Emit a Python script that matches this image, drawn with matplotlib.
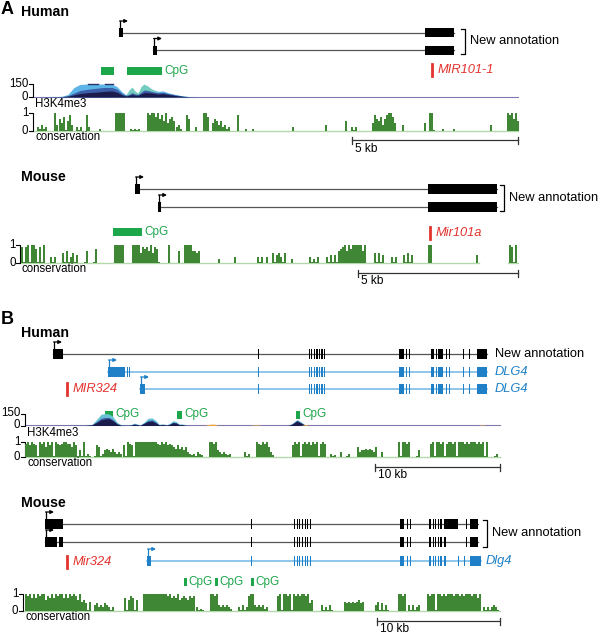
import matplotlib.pyplot as plt
from matplotlib.patches import Rectangle
import numpy as np

plt.rcParams['font.family'] = ['Liberation Sans', 'DejaVu Sans']

# colours
CONS = '#3f8734'
CONS_LIGHT = '#8cc282'
CONS_BASE = '#b3d8ac'
CPG = '#1ea64b'
RED = '#e2332e'
BLUE = '#1f80c7'
BLUE_LINE = '#6fb6e5'
GRAY = '#555555'

# ---------------- panel A, human ----------------
a_hs_tx1 = [(119, 123), (425, 454)]
a_hs_tx2 = [(153, 157), (425, 454)]
a_hs_cpg = [(101, 114), (127, 162)]
a_hs_cpg_labels = [False, True]
a_hs_mir_x = 432

# H3K4me3 profile (signal 0-150)
a_h3k_x = [33, 50, 62, 68, 74, 80, 88, 96, 104, 112, 117, 122, 126, 129, 132, 135, 138, 141, 144, 148,
           153, 158, 163, 168, 175, 183, 190, 200, 518]
a_h3k_sky = [1, 3, 8, 30, 110, 145, 150, 150, 150, 148, 120, 60, 25, 40, 60, 45, 40, 90, 120, 110,
             85, 65, 70, 50, 30, 12, 4, 1, 1]
a_h3k_teal = [0, 0, 0, 0, 0, 0, 0, 0, 0, 0, 30, 30, 25, 80, 115, 70, 45, 120, 150, 125,
              80, 55, 45, 35, 20, 0, 0, 0, 0]
a_h3k_mid = [0, 2, 5, 15, 45, 75, 90, 100, 110, 110, 90, 40, 20, 30, 50, 35, 30, 55, 80, 75,
             60, 50, 55, 40, 25, 10, 3, 0, 0]
a_h3k_navy = [1, 2, 4, 10, 25, 40, 50, 55, 65, 70, 55, 25, 12, 18, 30, 22, 20, 35, 50, 50,
              45, 35, 40, 30, 18, 7, 2, 1, 1]

# conservation: (start, one digit per 2-unit bin, 9 = 1.0)
a_hs_cons = [(37, "21312"), (54, "93"), (59, "6470583"), (76, "202"), (86, "82"), (99, "1"),
             (115, "99999"), (130, "10101"), (147, "98997968594675"), (176, "231"), (186, "86"),
             (195, "2"), (203, "997"), (212, "465352312"), (237, "8"), (245, "1"), (252, "1"),
             (292, "2"), (325, "3"), (345, "5"), (351, "202"), (372, "486573689974"), (402, "3"),
             (424, "4"), (429, "990"), (442, "1"), (453, "1"), (490, "3"), (507, "989695")]

# ---------------- panel A, mouse ----------------
a_mm_tx1 = [(135, 140), (428, 497)]
a_mm_tx2 = [(158, 161), (428, 497)]
a_mm_cpg = [(113, 142)]
a_mm_mir_x = 430
a_mm_cons = [(21, "80890997"), (37, "0809"), (50, "303"), (62, "50603504"), (84, "06"), (93, "07"),
             (114, "99999"), (132, "9999"), (140, "5878695870"), (168, "9"), (178, "6"),
             (184, "9999"), (192, "6656"), (218, "2"), (234, "3"), (257, "303"), (266, "3"),
             (272, "5045305"), (291, "2"), (309, "30203"), (326, "304040"), (338, "6789697"),
             (352, "99999"), (362, "69"), (374, "50504"), (391, "303"), (403, "40504"),
             (428, "99"), (476, "4"), (509, "9809")]

# ---------------- panel B, human ----------------
b_hs_body = [(257.5, 258.7), (308.5, 309.5), (311, 312), (313.5, 315), (316, 317.5), (318.5, 320),
             (321, 322.5), (323.5, 325), (399, 403.5), (405.5, 406.7), (408.5, 409.7), (431, 434),
             (435.5, 436.7), (438, 443), (446, 447.2), (449, 450.2), (463, 464.2), (469, 470.2),
             (477, 487)]
b_hs_new = [(53, 63)] + b_hs_body
b_hs_dlg4_1 = [(108, 125), (126.5, 127.5), (129, 130)] + b_hs_body
b_hs_dlg4_2 = [(140, 145)] + b_hs_body
b_hs_cpg = [(105, 113), (177, 182), (296, 300)]
b_hs_mir_x = 67

b_h3k_x = [25, 85, 92, 97, 101, 105, 109, 113, 117, 121, 128, 131, 134, 137, 140, 144, 148, 152, 156,
           159, 163, 167, 170, 173, 176, 179, 182, 186, 190, 205, 209, 214, 218, 250, 256, 262,
           288, 292, 297, 301, 305, 310, 478, 482, 486, 500]
b_h3k_sky = [1, 2, 15, 80, 140, 150, 145, 110, 40, 10, 3, 10, 30, 20, 5, 40, 90, 95, 60,
             15, 20, 10, 30, 60, 50, 20, 20, 5, 1, 1, 3, 3, 1, 1, 2, 1,
             1, 25, 75, 45, 8, 1, 1, 2, 1, 1]
b_h3k_mid = [0, 1, 10, 50, 90, 100, 100, 70, 25, 5, 2, 6, 20, 14, 3, 30, 60, 70, 40,
             10, 14, 6, 20, 40, 35, 12, 12, 3, 0, 0, 0, 0, 0, 0, 0, 0,
             0, 20, 65, 35, 5, 0, 0, 0, 0, 0]
b_h3k_navy = [1, 2, 8, 40, 70, 80, 85, 60, 20, 4, 2, 5, 15, 10, 2, 25, 50, 55, 30,
              8, 10, 5, 15, 35, 30, 10, 10, 2, 1, 1, 1, 1, 1, 1, 1, 1,
              1, 15, 55, 30, 4, 1, 1, 1, 1, 1]
b_h3k_orange = [0, 0, 0, 0, 0, 0, 0, 0, 0, 0, 0, 0, 0, 0, 0, 0, 0, 0, 0,
                0, 0, 0, 0, 0, 0, 0, 0, 0, 0, 0, 15, 18, 0, 0, 9, 0,
                0, 0, 0, 0, 12, 0, 0, 8, 0, 0]

b_hs_cons = [(25, "8979870989697909878998"), (69, "869704"), (81, "09020"),
             (94, "07602454353232"), (123, "7098709"), (137, "9999999999"), (157, "87989787"),
             (173, "6575646"), (187, "32120321"), (209, "9989"), (217, "4323212"), (229, "2"),
             (244, "302"), (256, "9879896"), (270, "31"), (292, "79890898979890898"),
             (330, "201"), (340, "3"), (346, "02"), (357, "6344545436"), (381, "3"),
             (398, "909989"), (416, "04"), (430, "8909989089"), (450, "98909998989"),
             (472, "99898909"), (494, "02")]

# ---------------- panel B, mouse ----------------
b_mm_body = [(251, 252.2), (293.5, 294.7), (296.5, 297.7), (299, 300.2), (301.5, 302.7), (304.5, 305.7),
             (307, 308.2), (309.5, 310.7), (400, 404), (406.5, 407.7), (409.5, 410.7), (429, 431),
             (432.5, 433.5), (435, 436), (437.5, 438.5), (440, 442)]
b_mm_tx1 = [(45, 63)] + b_mm_body + [(444, 458), (465.5, 466.7), (470, 478)]
b_mm_tx2 = [(45, 57), (59, 63)] + b_mm_body + [(444, 446), (465.5, 466.7), (470, 478)]
b_mm_dlg4 = [(147, 151)] + b_mm_body + [(444, 445.5), (458, 459.2), (464, 465.2), (470, 481)]
b_mm_cpg = [(184, 187), (215, 218), (251, 254)]
b_mm_mir_x = 67
b_mm_cons = [(25, "98979798996879798997979898"), (77, "6956405"), (94, "3423243202"),
             (124, "7068706"), (143, "99999999999989"), (171, "787967876878"), (196, "2010"),
             (210, "9989"), (218, "3232321"), (238, "20302"), (248, "899"), (254, "3232312"),
             (277, "8909989098989989"), (309, "46"), (321, "302030"), (344, "5454545645"),
             (375, "3504030"), (398, "9989"), (408, "303023"),
             (427, "989909989899989989899989"), (475, "979"), (483, "20202320")]

fig = plt.figure(figsize=(6.04, 6.35), dpi=100)
ax = fig.add_axes([0, 0, 1, 1])
ax.set_xlim(0, 604)
ax.set_ylim(635, 0)
ax.axis('off')

FS = 9.3
FS_S = 8.3


def transcript(exons, y, h, color, line_color, lw=0.9, tss=True):
    ax.plot([exons[0][0], exons[-1][1]], [y, y], color=line_color, lw=lw, zorder=1)
    for a, b in exons:
        ax.add_patch(Rectangle((a, y - h / 2), b - a, h, color=color, lw=0, zorder=2))
    if tss:
        x = exons[0][0] + 1
        top = y - h / 2 - 7
        ax.plot([x, x], [y - h / 2, top], color=color, lw=0.9)
        ax.annotate('', xy=(x + 8, top), xytext=(x - 0.4, top),
                    arrowprops=dict(arrowstyle='-|>', lw=0.9, color=color, mutation_scale=5,
                                    shrinkA=0, shrinkB=0))


def cpg(boxes, y, h=8, label_pad=2, labels=None):
    if labels is None:
        labels = [True] * len(boxes)
    for (a, b), lab in zip(boxes, labels):
        ax.add_patch(Rectangle((a, y - h / 2), b - a, h, color=CPG, lw=0))
        if lab:
            ax.text(b + label_pad, y, 'CpG', color=CPG, fontsize=FS_S + 0.2, va='center', ha='left')


def mir(x, y, name):
    ax.plot([x, x], [y - 6, y + 6], color=RED, lw=2)
    ax.text(x + 6, y, name, color=RED, fontsize=FS, style='italic', va='center', ha='left')


def bracket(x, y0, y1, label):
    ax.plot([x, x + 4, x + 4, x], [y0, y0, y1, y1], color='black', lw=0.9)
    ax.text(x + 9, (y0 + y1) / 2, label, fontsize=FS, va='center', ha='left')


def track_axis(x, base, top, top_label):
    ax.plot([x - 4, x, x, x - 4], [top, top, base, base], color='black', lw=0.8)
    ax.text(x - 4.5, top, top_label, fontsize=FS_S, ha='right', va='center')
    ax.text(x - 4.5, base, '0', fontsize=FS_S, ha='right', va='center')


def conservation(segs, x0, x1, base, top, label_y, gaps=()):
    xs, hs = [], []
    for start, s in segs:
        for i, c in enumerate(s):
            xs.append(start + 2 * i)
            hs.append(int(c) / 9 if c != '0' else 0.06)
    xs = np.array(xs, dtype=float)
    hs = np.array(hs) * (base - top)
    # baseline
    edges = [x0] + [g for gap in gaps for g in gap] + [x1]
    for a, b in zip(edges[::2], edges[1::2]):
        ax.plot([a, b], [base - 0.3, base - 0.3], color=CONS_BASE, lw=1.0, zorder=1)
    # light fill under the peaks, then dark spikes on top
    ax.bar(xs, -hs * 0.85, bottom=base, width=2.0, align='edge', color=CONS_LIGHT, lw=0, zorder=2)
    ax.bar(xs + 0.2, -hs, bottom=base, width=1.5, align='edge', color=CONS, lw=0, zorder=3)
    track_axis(x0, base, top, '1')
    ax.text(x0 + 2, label_y, 'conservation', fontsize=FS_S, va='center', ha='left')


def h3k(xv, layers, base, top, x0, label_y):
    xv = np.array(xv, dtype=float)
    scale = (base - top) / 150.0
    for vals, col in layers:
        v = np.array(vals, dtype=float)
        ax.fill_between(xv, base, base - v * scale, color=col, lw=0, zorder=2)
    ax.plot([x0, xv[-1]], [base - 0.3, base - 0.3], color='#8e7cb6', lw=0.8, zorder=1)
    track_axis(x0, base, top, '150')
    ax.text(x0 + 2, label_y, 'H3K4me3', fontsize=FS_S, va='center', ha='left')


def scalebar(x0, x1, y, label):
    ax.plot([x0, x1], [y, y], color='#333333', lw=0.9)
    ax.plot([x0, x0], [y - 3.5, y + 3.5], color='#333333', lw=0.9)
    ax.plot([x1, x1], [y - 3.5, y + 3.5], color='#333333', lw=0.9)
    ax.text(x0 + 3, y + 8.5, label, fontsize=FS_S + 0.3, va='center', ha='left')


# ---------- A human ----------
ax.text(1, 9, 'A', fontsize=13, fontweight='bold', va='center', ha='left')
ax.text(21, 12, 'Human', fontsize=10.2, fontweight='bold', va='center', ha='left')
transcript(a_hs_tx1, 32.5, 9, 'black', GRAY)
transcript(a_hs_tx2, 50, 9, 'black', GRAY)
bracket(461, 29, 54, 'New annotation')
cpg(a_hs_cpg, 71, labels=a_hs_cpg_labels)
mir(a_hs_mir_x, 70, 'MIR101-1')
h3k(a_h3k_x, [(a_h3k_sky, '#5cb5e6'), (a_h3k_teal, '#73ccbf'), (a_h3k_mid, '#3a5ea8'),
              (a_h3k_navy, '#1c1c4c')], 97, 84, 33, 104)
ax.plot([88, 98], [84.4, 84.4], color='#2a3468', lw=1)
ax.plot([105, 113], [84.4, 84.4], color='#2a3468', lw=1)
conservation(a_hs_cons, 33, 518, 131, 113, 137.5)
scalebar(352, 518, 140, '5 kb')

# ---------- A mouse ----------
ax.text(21, 177, 'Mouse', fontsize=10.2, fontweight='bold', va='center', ha='left')
transcript(a_mm_tx1, 189, 10, 'black', GRAY)
transcript(a_mm_tx2, 207, 10, 'black', GRAY)
bracket(500, 185, 211, 'New annotation')
cpg(a_mm_cpg, 232)
mir(a_mm_mir_x, 233, 'Mir101a')
conservation(a_mm_cons, 20, 518, 263, 245, 269.5, gaps=[(479, 508)])
scalebar(358, 518, 273, '5 kb')

# ---------- B human ----------
ax.text(1, 319, 'B', fontsize=13, fontweight='bold', va='center', ha='left')
ax.text(21, 333, 'Human', fontsize=10.2, fontweight='bold', va='center', ha='left')
transcript(b_hs_new, 354, 10, 'black', GRAY)
ax.text(495, 354, 'New annotation', fontsize=FS, va='center', ha='left')
transcript(b_hs_dlg4_1, 372, 10, BLUE, BLUE_LINE, lw=1.1)
transcript(b_hs_dlg4_2, 389, 10, BLUE, BLUE_LINE, lw=1.1)
ax.text(495, 372, 'DLG4', fontsize=FS, color=BLUE, style='italic', va='center', ha='left')
ax.text(495, 389, 'DLG4', fontsize=FS, color=BLUE, style='italic', va='center', ha='left')
mir(b_hs_mir_x, 389, 'MIR324')
cpg(b_hs_cpg, 414.5)
h3k(b_h3k_x, [(b_h3k_sky, '#67c3d4'), (b_h3k_mid, '#3d56a0'), (b_h3k_navy, '#1c1c4c'),
              (b_h3k_orange, '#f0a640')], 425.5, 413.5, 25, 432.5)
conservation(b_hs_cons, 25, 500, 457, 442, 463.5)
scalebar(375, 500, 467, '10 kb')

# ---------- B mouse ----------
ax.text(21, 503, 'Mouse', fontsize=10.2, fontweight='bold', va='center', ha='left')
transcript(b_mm_tx1, 524, 10, 'black', GRAY)
transcript(b_mm_tx2, 542, 10, 'black', GRAY)
bracket(483, 520, 547, 'New annotation')
transcript(b_mm_dlg4, 561, 10, BLUE, BLUE_LINE, lw=1.1)
ax.text(486, 561, 'Dlg4', fontsize=FS, color=BLUE, style='italic', va='center', ha='left')
mir(b_mm_mir_x, 562, 'Mir324')
cpg(b_mm_cpg, 582, label_pad=1)
conservation(b_mm_cons, 23, 500, 611, 594, 617.5)
scalebar(377, 500, 621, '10 kb')

fig.savefig('out.png', dpi=100)
